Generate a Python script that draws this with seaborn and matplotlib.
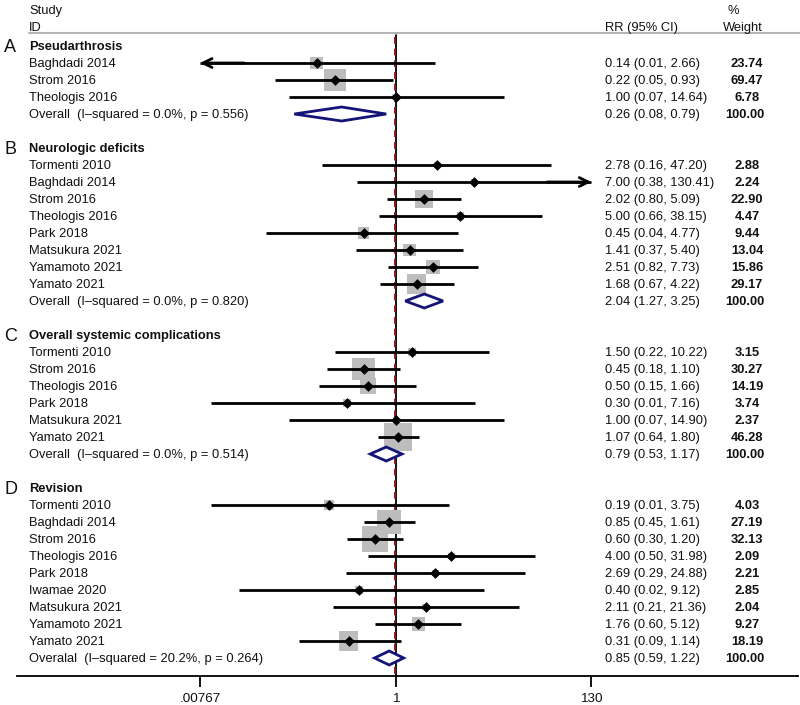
import numpy as np
import pandas as pd
import seaborn as sns
import matplotlib.pyplot as plt
from matplotlib.patches import Polygon

# ---- data ----
panel_letters = ["A", "B", "C", "D"]
panel_titles = ["Pseudarthrosis", "Neurologic deficits",
                "Overall systemic complications", "Revision"]

studies_a = ["Baghdadi 2014", "Strom 2016", "Theologis 2016"]
rr_a = [0.14, 0.22, 1.00]
lo_a = [0.0074, 0.05, 0.07]
hi_a = [2.66, 0.93, 14.64]
w_a = [23.74, 69.47, 6.78]

studies_b = ["Tormenti 2010", "Baghdadi 2014", "Strom 2016", "Theologis 2016",
             "Park 2018", "Matsukura 2021", "Yamamoto 2021", "Yamato 2021"]
rr_b = [2.78, 7.00, 2.02, 5.00, 0.45, 1.41, 2.51, 1.68]
lo_b = [0.16, 0.38, 0.80, 0.66, 0.04, 0.37, 0.82, 0.67]
hi_b = [47.20, 130.41, 5.09, 38.15, 4.77, 5.40, 7.73, 4.22]
w_b = [2.88, 2.24, 22.90, 4.47, 9.44, 13.04, 15.86, 29.17]

studies_c = ["Tormenti 2010", "Strom 2016", "Theologis 2016", "Park 2018",
             "Matsukura 2021", "Yamato 2021"]
rr_c = [1.50, 0.45, 0.50, 0.30, 1.00, 1.07]
lo_c = [0.22, 0.18, 0.15, 0.01, 0.07, 0.64]
hi_c = [10.22, 1.10, 1.66, 7.16, 14.90, 1.80]
w_c = [3.15, 30.27, 14.19, 3.74, 2.37, 46.28]

studies_d = ["Tormenti 2010", "Baghdadi 2014", "Strom 2016", "Theologis 2016",
             "Park 2018", "Iwamae 2020", "Matsukura 2021", "Yamamoto 2021",
             "Yamato 2021"]
rr_d = [0.19, 0.85, 0.60, 4.00, 2.69, 0.40, 2.11, 1.76, 0.31]
lo_d = [0.01, 0.45, 0.30, 0.50, 0.29, 0.02, 0.21, 0.60, 0.09]
hi_d = [3.75, 1.61, 1.20, 31.98, 24.88, 9.12, 21.36, 5.12, 1.14]
w_d = [4.03, 27.19, 32.13, 2.09, 2.21, 2.85, 2.04, 9.27, 18.19]

overall_labels = ["Overall  (I\u2013squared = 0.0%, p = 0.556)",
                  "Overall  (I\u2013squared = 0.0%, p = 0.820)",
                  "Overall  (I\u2013squared = 0.0%, p = 0.514)",
                  "Overalal  (I\u2013squared = 20.2%, p = 0.264)"]
overall_rr = [0.26, 2.04, 0.79, 0.85]
overall_lo = [0.08, 1.27, 0.53, 0.59]
overall_hi = [0.79, 3.25, 1.17, 1.22]

tick_vals = [0.00767, 1, 130]
tick_labels = [".00767", "1", "130"]

# ---- layout helpers (pixels of the 800x705 figure) ----
W, H = 800, 705
AX_L, AX_R = 17, 798
X_ONE, PX_DEC = 395.7, 92.5          # pixel of RR=1, pixels per decade
ROW0, ROW_H = 46, 17                 # first row pixel, row height
box_scale = [2.64, 3.6, 4.1, 4.5]    # box side (px) per sqrt(weight), per panel


def fx(px):
    return (px - AX_L) / (AX_R - AX_L)


def row_of(py):
    return (py - ROW0) / ROW_H


# assemble one table
groups = [(studies_a, rr_a, lo_a, hi_a, w_a), (studies_b, rr_b, lo_b, hi_b, w_b),
          (studies_c, rr_c, lo_c, hi_c, w_c), (studies_d, rr_d, lo_d, hi_d, w_d)]
recs, titles, overall = [], [], []
r = 0
for g, (st, rr, lo, hi, w) in enumerate(groups):
    titles.append(r)
    for i in range(len(st)):
        recs.append(dict(panel=g, row=r + 1 + i, study=st[i], rr=rr[i],
                         lo=lo[i], hi=hi[i], w=w[i]))
    overall.append(r + len(st) + 1)
    r += len(st) + 3
df = pd.DataFrame(recs)

sns.set_theme(style="white")
plt.rcParams['font.family'] = ['Liberation Sans', 'DejaVu Sans']

fig = plt.figure(figsize=(W / 100, H / 100), dpi=100)
ax = fig.add_axes([AX_L / W, (H - 676) / H, (AX_R - AX_L) / W, 676 / H])
ax.set_xscale('log')
ax.set_xlim(10 ** ((AX_L - X_ONE) / PX_DEC), 10 ** ((AX_R - X_ONE) / PX_DEC))
ax.set_ylim(row_of(676), row_of(0))
ax.patch.set_visible(False)
xmin, xmax = tick_vals[0], tick_vals[-1]
tr = ax.get_yaxis_transform()
fs = 9.3
tc = '#111111'

# reference lines
ax.plot([1, 1], [row_of(35), row_of(676)], color='black', lw=1.3, zorder=1)
ax.plot([0.975, 0.975], [row_of(37), row_of(676)], color='#8b1a1a', lw=1.4,
        dashes=(3.5, 2.5), zorder=1.5)

# weight boxes
df['side'] = [box_scale[p] * np.sqrt(w) * 0.72 for p, w in zip(df.panel, df.w)]
sns.scatterplot(data=df, x='rr', y='row', marker='s', s=df['side'] ** 2,
                color='#bdbdbd', edgecolor='none', linewidth=0, legend=False,
                ax=ax, zorder=2)

# confidence intervals with arrows where clipped
for _, d in df.iterrows():
    a, b = max(d.lo, xmin), min(d.hi, xmax)
    ax.plot([a, b], [d.row, d.row], color='black', lw=2, zorder=3,
            solid_capstyle='butt')
    if d.lo < xmin:
        ax.annotate('', xy=(a, d.row), xytext=(a * 3, d.row),
                    arrowprops=dict(arrowstyle='->', lw=2, color='black',
                                    mutation_scale=16, shrinkA=0, shrinkB=0),
                    zorder=3)
    if d.hi > xmax:
        ax.annotate('', xy=(b, d.row), xytext=(b / 3, d.row),
                    arrowprops=dict(arrowstyle='->', lw=2, color='black',
                                    mutation_scale=16, shrinkA=0, shrinkB=0),
                    zorder=3)

sns.scatterplot(data=df, x='rr', y='row', marker='D', s=30, color='black',
                edgecolor='black', linewidth=0, legend=False, ax=ax, zorder=4)

# pooled diamonds
for g in range(4):
    y = overall[g]
    h = 7 / ROW_H
    ax.add_patch(Polygon([[overall_lo[g], y], [overall_rr[g], y - h],
                          [overall_hi[g], y], [overall_rr[g], y + h]],
                         closed=True, facecolor='white', edgecolor='#141478',
                         lw=2, zorder=3))

# texts
kw = dict(transform=tr, fontsize=fs, va='center_baseline', color=tc)
ax.text(fx(29), row_of(10), "Study", **kw)
ax.text(fx(29), row_of(27), "ID", **kw)
ax.text(fx(605), row_of(27), "RR (95% CI)", **kw)
ax.text(fx(728), row_of(10), "%", **kw)
ax.text(fx(723), row_of(27), "Weight", **kw)
ax.plot([fx(29), fx(800)], [row_of(33), row_of(33)], transform=tr,
        color='#b5b5b5', lw=1.5, clip_on=False)

for g in range(4):
    ax.text(fx(4), titles[g], panel_letters[g], transform=tr, fontsize=13,
            va='center_baseline', color=tc)
    ax.text(fx(29), titles[g], panel_titles[g], transform=tr, fontsize=fs,
            va='center_baseline', fontweight='bold', color=tc)
    y = overall[g]
    ax.text(fx(29), y, overall_labels[g], **kw)
    ax.text(fx(605), y, f"{overall_rr[g]:.2f} ({overall_lo[g]:.2f}, {overall_hi[g]:.2f})", **kw)
    ax.text(fx(745), y, "100.00", transform=tr, fontsize=fs,
            va='center_baseline', ha='center', fontweight='bold', color=tc)

for _, d in df.iterrows():
    ax.text(fx(29), d.row, d.study, **kw)
    ax.text(fx(605), d.row, f"{d.rr:.2f} ({d.lo:.2f}, {d.hi:.2f})", **kw)
    ax.text(fx(747), d.row, f"{d.w:.2f}", transform=tr, fontsize=fs,
            va='center_baseline', ha='center', fontweight='bold', color=tc)

# axis
for s in ['left', 'right', 'top']:
    ax.spines[s].set_visible(False)
ax.spines['bottom'].set_color('black')
ax.spines['bottom'].set_linewidth(1.3)
ax.set_xlabel('')
ax.set_ylabel('')
ax.set_yticks([])
ax.set_xticks(tick_vals)
ax.set_xticklabels(tick_labels)
ax.minorticks_off()
ax.tick_params(axis='x', bottom=True, direction='out', length=8, width=1.3,
               color='black', labelsize=fs + 0.4, pad=4.5, labelcolor=tc)

fig.savefig('out.png', dpi=100)
